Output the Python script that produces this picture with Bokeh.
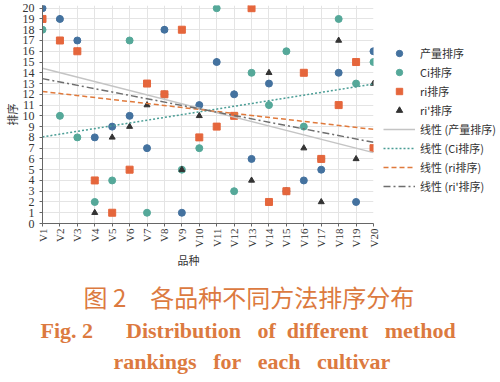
import numpy as np
from bokeh.plotting import figure
from bokeh.models import Range1d, FixedTicker, Legend, LegendItem, ColumnDataSource, Title
from bokeh.embed import file_html
from bokeh.resources import INLINE

# ---------------- data ----------------
cultivars = [f"V{i}" for i in range(1, 21)]
x_pos = list(range(1, 21))
yield_rank = [20, 19, 17, 8, 9, 10, 7, 18, 1, 11, 15, 12, 6, 13, 3, 4, 5, 14, 2, 16]
ci_rank = [18, 10, 8, 2, 4, 17, 1, 12, 5, 7, 20, 3, 14, 11, 16, 9, 6, 19, 13, 15]
ri_rank = [19, 17, 16, 4, 1, 5, 13, 12, 18, 8, 9, 10, 20, 2, 3, 14, 6, 11, 15, 7]
ri2_rank = [20, 19, 16, 1, 8, 9, 11, 18, 5, 10, 15, 12, 4, 14, 3, 7, 2, 17, 6, 13]
y_ticks = list(range(0, 21))

series_names = ["产量排序", "Ci排序", "ri排序", "ri'排序"]
trend_names = ["线性 (产量排序)", "线性 (Ci排序)", "线性 (ri排序)", "线性 (ri'排序)"]

x_title = "品种"
y_title = "排序"
caption_cn = "图 2\u3000各品种不同方法排序分布"
NB = "\u00a0"
caption_en1 = "Fig." + NB + "2" + NB * 6 + "Distribution" + NB * 3 + "of" + NB * 2 + "different" + NB * 3 + "method"
caption_en2 = "rankings" + NB * 3 + "for" + NB * 3 + "each" + NB * 3 + "cultivar"

BLUE = "#44729f"
TEAL = "#55a899"
RED = "#e5663c"
TRI = "#333333"
CAP = "#dc7a40"

CJK = "Noto Sans CJK SC"
SERIF = "Liberation Serif"

# ---------------- chart ----------------
FRAME_LEFT = 34          # px from figure edge to frame
p = figure(frame_width=331, frame_height=218,
           x_range=Range1d(1, 20), y_range=Range1d(0, 20.25),
           output_backend="svg", toolbar_location=None,
           min_border_left=FRAME_LEFT, min_border_right=119,
           min_border_top=5, min_border_bottom=0)
p.outline_line_color = None
p.background_fill_color = "white"
p.border_fill_color = "white"

p.xaxis.ticker = FixedTicker(ticks=x_pos)
p.yaxis.ticker = FixedTicker(ticks=y_ticks)
p.xgrid.ticker = FixedTicker(ticks=x_pos)
p.ygrid.ticker = FixedTicker(ticks=y_ticks)
for g in (p.xgrid, p.ygrid):
    g.grid_line_color = "#e4e4e4"
    g.grid_line_width = 1

p.xaxis.major_label_overrides = {i: c for i, c in zip(x_pos, cultivars)}
p.xaxis.major_label_orientation = np.pi / 2
for ax in (p.xaxis, p.yaxis):
    ax.axis_line_color = "#666666"
    ax.major_tick_line_color = "#666666"
    ax.minor_tick_line_color = None
    ax.major_tick_in = 0
    ax.major_tick_out = 3
    ax.major_label_text_font = SERIF
    ax.major_label_text_color = "#333333"
p.xaxis.major_label_text_font_size = "11px"
p.xaxis.major_label_standoff = 2
p.yaxis.major_label_text_font_size = "12px"
p.yaxis.major_label_standoff = 5
p.yaxis.axis_label = y_title
p.yaxis.axis_label_text_font = CJK
p.yaxis.axis_label_text_font_size = "11px"
p.yaxis.axis_label_text_font_style = "normal"
p.yaxis.axis_label_text_color = "#333333"
p.yaxis.axis_label_standoff = 0

src = ColumnDataSource(dict(x=x_pos, yld=yield_rank, ci=ci_rank, ri=ri_rank, ri2=ri2_rank))

# draw order: Ci, ri', yield, ri
r_g = p.scatter("x", "ci", source=src, marker="circle", size=7, color=TEAL)
r_t = p.scatter("x", "ri2", source=src, marker="triangle", size=6, color=TRI)
r_b = p.scatter("x", "yld", source=src, marker="circle", size=7, color=BLUE)
r_r = p.scatter("x", "ri", source=src, marker="square", size=7, color=RED)

xs = np.array(x_pos, dtype=float)
line_specs = [
    (yield_rank, "#c4c4c4", "solid"),
    (ci_rank, "#4a9d95", "2 2"),
    (ri_rank, "#e07a3c", "5 3"),
    (ri2_rank, "#6e6e6e", "7 3 2 3"),
]
trend_renderers = []
for vals, col, dash in line_specs:
    k, b = np.polyfit(xs, np.array(vals, dtype=float), 1)
    xe = [xs[0], xs[-1]]
    ye = [k * xe[0] + b, k * xe[1] + b]
    trend_renderers.append(p.line(xe, ye, line_color=col, line_width=1.5, line_dash=dash))

items = [LegendItem(label=n, renderers=[r]) for n, r in zip(series_names, [r_b, r_g, r_r, r_t])]
items += [LegendItem(label=n, renderers=[r]) for n, r in zip(trend_names, trend_renderers)]
legend = Legend(items=items, location=(10, 29), orientation="vertical",
                glyph_width=32, glyph_height=16, label_height=16, spacing=3,
                label_standoff=5, padding=0, margin=0,
                border_line_color=None, background_fill_alpha=0,
                label_text_font=CJK, label_text_font_size="11px",
                label_text_color="#333333")
p.add_layout(legend, "right")

# ---------------- texts below the axis ----------------
def below_title(text, left_px, font, size, style, color, standoff):
    t = Title(text=text, align="left", offset=left_px - (8 + FRAME_LEFT),
              vertical_align="middle", standoff=standoff,
              text_font=font, text_font_size=size, text_font_style=style,
              text_color=color)
    p.add_layout(t, "below")
    return t

below_title(x_title, 177, CJK, "11px", "normal", "#333333", 0)
below_title(NB, 177, CJK, "1px", "normal", "#ffffff", 8)          # spacer
below_title(caption_cn, 83, CJK, "24px", "normal", CAP, -2.6)
below_title(caption_en1, 40, SERIF, "22px", "bold", CAP, 6.6)
below_title(caption_en2, 113, SERIF, "22px", "bold", CAP, 0)

open("out.html", "w").write(file_html(p, INLINE))
